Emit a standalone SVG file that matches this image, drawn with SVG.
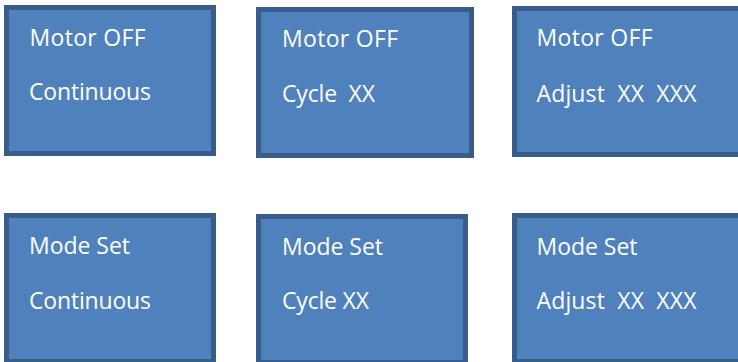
<svg xmlns="http://www.w3.org/2000/svg" width="738" height="362" viewBox="0 0 738 362">
  <style>
    .box { fill: #4F81BD; stroke: #385D8A; stroke-width: 5; }
    .lbl { fill: #FFFFFF; font-family: "Open Sans", "Liberation Sans", sans-serif; font-size: 23px; white-space: pre; }
  </style>
  <rect width="738" height="362" fill="#FFFFFF"/>

  <!-- Top row: motor-off screens -->
  <g id="motor-off-continuous">
    <rect class="box" x="6.5" y="7.5" width="207" height="146"/>
    <text class="lbl" x="29.5" y="46" textLength="116">Motor OFF</text>
    <text class="lbl" x="29" y="100" textLength="122">Continuous</text>
  </g>
  <g id="motor-off-cycle">
    <rect class="box" x="258.5" y="9.5" width="213" height="146"/>
    <text class="lbl" x="282" y="47" textLength="116">Motor OFF</text>
    <text class="lbl" x="282" y="102" textLength="93">Cycle  XX</text>
  </g>
  <g id="motor-off-adjust">
    <rect class="box" x="514.5" y="8.5" width="240" height="146"/>
    <text class="lbl" x="536.5" y="46" textLength="116">Motor OFF</text>
    <text class="lbl" x="536.5" y="101.5" textLength="160">Adjust  XX  XXX</text>
  </g>

  <!-- Bottom row: mode-set screens -->
  <g id="mode-set-continuous">
    <rect class="box" x="6.5" y="215.5" width="207" height="146"/>
    <text class="lbl" x="29" y="254" textLength="101">Mode Set</text>
    <text class="lbl" x="29" y="308.5" textLength="122">Continuous</text>
  </g>
  <g id="mode-set-cycle">
    <rect class="box" x="258.5" y="216.5" width="207" height="146"/>
    <text class="lbl" x="282" y="255" textLength="101">Mode Set</text>
    <text class="lbl" x="282" y="308.5" textLength="87">Cycle XX</text>
  </g>
  <g id="mode-set-adjust">
    <rect class="box" x="514.5" y="215.5" width="240" height="146"/>
    <text class="lbl" x="536.5" y="255" textLength="101">Mode Set</text>
    <text class="lbl" x="536.5" y="309" textLength="160">Adjust  XX  XXX</text>
  </g>

  <g id="connectors"/>
</svg>
